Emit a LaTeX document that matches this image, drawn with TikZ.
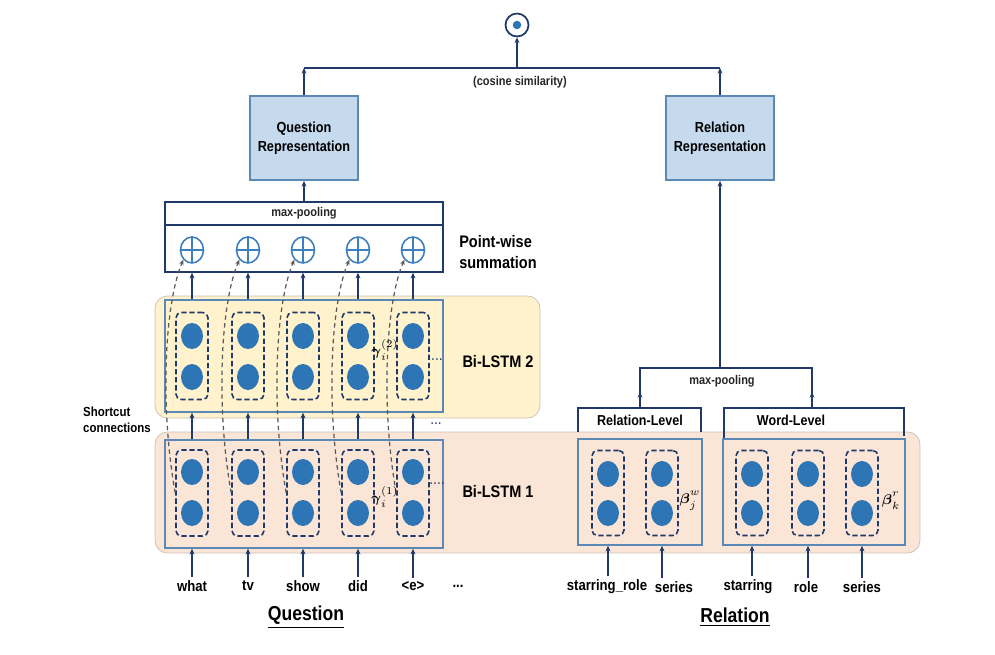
\documentclass[tikz,border=0pt]{standalone}
\usepackage{amsmath}
\usepackage{fontspec}
\setmainfont{Liberation Sans}[FakeStretch=0.87]
\usetikzlibrary{arrows.meta, positioning, shapes.geometric, calc}

\definecolor{navy}{HTML}{1F3A68}
\definecolor{boxline}{HTML}{5B88B5}
\definecolor{repfill}{HTML}{C5DAEC}
\definecolor{unitblue}{HTML}{2E75B6}
\definecolor{plusblue}{HTML}{3E7FBF}
\definecolor{bgtwofill}{HTML}{FFF2CC}
\definecolor{bgonefill}{HTML}{FBE5D6}
\definecolor{bgline}{HTML}{C8BFB4}

\begin{document}
\begin{tikzpicture}[x=0.02cm, y=-0.02cm,
    arr/.style={-{Stealth[length=3.2pt,width=2.8pt]}, navy, line width=0.8pt},
    line/.style={navy, line width=0.8pt},
    shortcut/.style={-{Stealth[length=3pt,width=2.6pt]}, gray!70!black, line width=0.7pt,
        dash pattern=on 2.5pt off 2pt},
    inbox/.style={draw=boxline, line width=0.9pt},
    cell/.style={draw=navy, line width=0.9pt, dash pattern=on 3pt off 1.6pt, rounded corners=3pt,
        minimum width=0.64cm, minimum height=1.74cm},
    unit/.style={ellipse, fill=unitblue, minimum width=0.44cm, minimum height=0.52cm, inner sep=0pt},
    oplus/.style={ellipse, draw=plusblue, line width=0.9pt, minimum width=0.46cm, minimum height=0.52cm,
        inner sep=0pt, path picture={\draw[plusblue, line width=0.8pt]
        (path picture bounding box.north) -- (path picture bounding box.south)
        (path picture bounding box.west) -- (path picture bounding box.east);}},
    rep/.style={draw=boxline, fill=repfill, line width=1pt, minimum width=2.16cm, minimum height=1.68cm,
        align=center, font=\fontsize{8.3}{11}\selectfont\bfseries},
    small/.style={font=\fontsize{7.2}{8}\selectfont\bfseries, text=black!85},
    layer/.style={font=\fontsize{9.5}{11.5}\selectfont\bfseries, align=left},
    word/.style={font=\fontsize{8.6}{10}\selectfont\bfseries, inner sep=2pt},
    gate/.style={font=\footnotesize, inner sep=0.5pt},
    hdr/.style={font=\fontsize{8.2}{10}\selectfont\bfseries},
    title/.style={font=\fontsize{11.5}{13}\selectfont\bfseries}]

    \useasboundingbox (0,0) rectangle (995,655);

    % SIMILARITY OUTPUT
    \node[circle, draw=navy, line width=1pt, minimum size=0.46cm, inner sep=0pt] (sim) at (517,25) {};
    \node[circle, fill=unitblue, minimum size=0.17cm, inner sep=0pt] (simdot) at (sim) {};

    % REPRESENTATIONS
    \node[rep] (qrep) at (304,138) {Question\\Representation};
    \node[rep] (rrep) at (720,138) {Relation\\Representation};

    \coordinate (cosL) at (qrep.north |- 0,68);
    \coordinate (cosR) at (rrep.north |- 0,68);
    \coordinate (cosM) at (517,68);
    \draw[arr] (qrep.north) -- (cosL);
    \draw[arr] (rrep.north) -- (cosR);
    \draw[line] (cosL) -- (cosR);
    \draw[arr] (cosM) -- (sim.south);
    \node[small] (cosine) at (520,82) {(cosine similarity)};

    % MAX-POOLING AND POINT-WISE SUMMATION
    \node[draw=navy, line width=0.9pt, minimum width=5.56cm, minimum height=0.46cm, small] (qpool) at (304,213.5) {max-pooling};
    \node[draw=navy, line width=0.9pt, minimum width=5.56cm, minimum height=0.94cm] (qsum) at (304,248.5) {};
    \draw[arr] (qpool.north) -- (qrep.south);
    \node[layer] (pwlabel) at (498,252) {Point-wise\\summation};

    % BACKGROUNDS
    \node[draw=bgline, fill=bgtwofill, rounded corners=7pt, minimum width=7.7cm, minimum height=2.44cm] (bg2) at (347.5,357) {};
    \node[draw=bgline, fill=bgonefill, rounded corners=7pt, minimum width=15.3cm, minimum height=2.42cm] (bg1) at (537.5,492.5) {};

    % BI-LSTM BOXES
    \node[inbox, minimum width=5.56cm, minimum height=2.24cm] (l2) at (304,356) {};
    \node[inbox, minimum width=5.56cm, minimum height=2.16cm] (l1) at (304,494) {};
    \node[inbox, minimum width=2.48cm, minimum height=2.12cm] (rl) at (640,492) {};
    \node[inbox, minimum width=3.64cm, minimum height=2.12cm] (wl) at (814,492) {};

    % QUESTION COLUMNS
    \foreach \x/\w [count=\i] in {192/what, 248/tv, 303/show, 358/did, 413/{<e>}} {
        \node[cell] (ct\i) at (\x,356) {};
        \node[unit] (uta\i) at (\x,336) {};
        \node[unit] (utb\i) at (\x,377) {};
        \node[cell, minimum height=1.72cm] (cb\i) at (\x,493) {};
        \node[unit] (uba\i) at (\x,472) {};
        \node[unit] (ubb\i) at (\x,513) {};
        \node[oplus] (s\i) at (\x,250) {};
        \node[word] (qw\i) at (\x,586) {\w};
        \draw[arr] (qw\i.north) -- (qw\i.north |- l1.south);
        \draw[arr] (l1.north -| cb\i) -- (l2.south -| ct\i);
        \draw[arr] (l2.north -| ct\i) -- (qsum.south -| ct\i);
        \draw[shortcut] (cb\i.west) .. controls +(-16,-90) and +(-18,42) .. (s\i.south west);
    }
    \node[word] (qwdots) at (458,586) {...};

    % GATE LABELS AND DOTS
    \node[gate] (g2) at (385,350) {$\boldsymbol{\gamma}^{(2)}_{i}$};
    \node[gate] (g1) at (385,497) {$\boldsymbol{\gamma}^{(1)}_{i}$};
    \node[text=navy, font=\small] (d2) at (435,360) {....};
    \node[text=navy, font=\small] (d1) at (437,484) {....};
    \node[text=navy, font=\small] (dmid) at (436,424) {...};
    \node[layer] (lstm2) at (498,362) {Bi-LSTM 2};
    \node[layer] (lstm1) at (498,492) {Bi-LSTM 1};
    \node[font=\fontsize{7.5}{9}\selectfont\bfseries, align=left] (short) at (117,420) {Shortcut\\connections};

    % RELATION COLUMNS
    \foreach \x/\wx/\w/\b [count=\i] in {608/607/starring\_role/rl, 662/674/series/rl, 752/748/starring/wl, 808/806/role/wl, 862/862/series/wl} {
        \node[cell, minimum height=1.7cm] (cr\i) at (\x,493) {};
        \node[unit] (ura\i) at (\x,474) {};
        \node[unit] (urb\i) at (\x,513) {};
        \node[word] (rw\i) at (\wx,587) {\w};
        \draw[arr] (rw\i.north -| cr\i) -- (\b.south -| cr\i);
    }
    \node[gate] (bj) at (690,499) {$\boldsymbol{\beta}^{w\vphantom{(}}_{j}$};
    \node[gate] (bk) at (891,499) {$\boldsymbol{\beta}^{r\vphantom{(}}_{k}$};

    % RELATION-LEVEL AND WORD-LEVEL HEADERS
    \draw[line] (578,432) |- (701,408) -- (701,432);
    \node[hdr] (rlhead) at (640,420) {Relation-Level};
    \draw[line] (724,438) |- (904,408) -- (904,436);
    \node[hdr] (wlhead) at (791,420) {Word-Level};

    % RELATION MAX-POOLING
    \coordinate (rlup) at (640,408);
    \coordinate (wlup) at (812,408);
    \coordinate (rjoin) at (720,368);
    \draw[line] (rlup) |- (rjoin) -| (wlup);
    \draw[arr] (rlup) -- ++(0,-16);
    \draw[arr] (wlup) -- ++(0,-16);
    \draw[arr] (rjoin) -- (rrep.south);
    \node[small] (rpool) at (722,381) {max-pooling};

    % TITLES
    \node[title] (qtitle) at (306,617) {\underline{Question}};
    \node[title] (rtitle) at (735,617) {\underline{Relation}};

\end{tikzpicture}
\end{document}
